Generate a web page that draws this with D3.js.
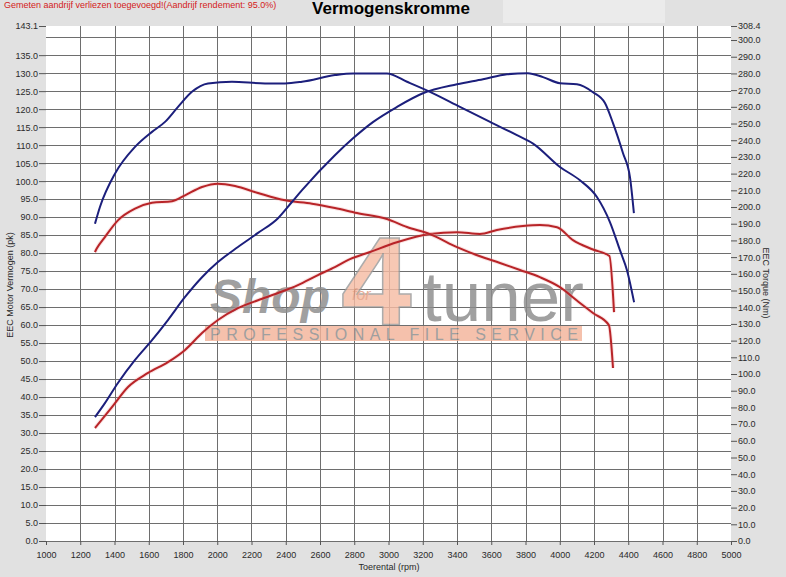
<!DOCTYPE html>
<html>
<head>
<meta charset="utf-8">
<script src="https://cdn.jsdelivr.net/npm/d3@7"></script>
<style>
  body { margin: 0; background: #e1e1e1; }
  svg { display: block; font-family: Arial, "Liberation Sans", sans-serif; }
</style>
</head>
<body>
<svg id="chart" width="786" height="577"></svg>
<script>
// tuned power (pk, left axis)
const tunedPowerRpm = [1286,1344,1420,1520,1619,1712,1812,1911,2004,2121,2238,2355,2436,2495,2687,2793,2909,3049,3201,3400,3552,3692,3814,3902,4001,4100,4194,4264,4311,4369,4410,4433];
const tunedPower    = [34.4,38.3,43.9,50.3,55.8,61.4,67.8,73.3,77.5,81.7,85.6,89.7,94.2,97.5,107.2,111.9,116.4,120.6,124.4,126.9,128.3,129.7,130.0,128.9,127.2,126.9,124.7,121.7,116.1,107.8,101.1,91.1];

// tuned torque (Nm, right axis)
const tunedTorqueRpm = [1286,1315,1403,1520,1619,1695,1771,1852,1946,2086,2279,2396,2495,2687,2793,2991,3108,3242,3417,3593,3750,3844,4001,4118,4217,4293,4352,4393,4434];
const tunedTorque    = [190,200,220,236,245,251,260,269,274,275,274,274,275,279,280,280,275,269,260,251,243,238,224,216,206,191,174,162,143];

// stock power (pk, left axis)
const stockPowerRpm = [1286,1385,1479,1596,1712,1812,1911,2004,2121,2238,2355,2471,2588,2687,2775,2892,3049,3242,3400,3534,3633,3785,3884,3984,4077,4194,4290,4317];
const stockPower    = [31.4,37.2,42.8,46.7,49.7,53.1,57.8,61.4,64.7,66.9,68.9,71.1,73.9,76.1,78.3,80.3,83.0,85.3,85.8,85.3,86.4,87.5,87.8,87.2,83.6,81.0,79.2,63.6];

// stock torque (Nm, right axis)
const stockTorqueRpm = [1286,1298,1344,1420,1520,1619,1736,1812,1911,2004,2104,2238,2396,2553,2687,2816,2991,3108,3242,3400,3534,3651,3768,3884,4001,4100,4194,4287,4311];
const stockTorque    = [173,175.4,182,192,199,202.5,203.5,207,212,214,212.6,208.4,204,202,199.4,196.4,192.8,188,183.8,176,170.5,166.5,162.3,158,152,144,136.5,129.3,103.6];

const rpmTicks = d3.range(1000, 5001, 200);
const pkTicks = d3.range(0, 136, 5).concat([143.1]);
const nmTicks = d3.range(0, 301, 10).concat([308.4]);

const svg = d3.select("#chart");
const plotLeft = 46, plotRight = 731, plotTop = 26, plotBottom = 541;

const x = d3.scaleLinear().domain([1000, 5000]).range([plotLeft, plotRight]);
const yL = d3.scaleLinear().domain([0, 143.1]).range([plotBottom, plotTop]);
const yR = d3.scaleLinear().domain([0, 308.4]).range([plotBottom, plotTop]);

svg.append("rect").attr("width", 786).attr("height", 577).attr("fill", "#e1e1e1");
svg.append("rect").attr("x", 503).attr("y", 0).attr("width", 162).attr("height", 23).attr("fill", "#ebebeb");

svg.append("text")
    .attr("x", 4).attr("y", 7.5)
    .attr("font-size", 9).attr("fill", "#d42020")
    .text("Gemeten aandrijf verliezen toegevoegd!(Aandrijf rendement: 95.0%)");

svg.append("text")
    .attr("x", 391).attr("y", 14)
    .attr("text-anchor", "middle")
    .attr("font-size", 17).attr("font-weight", "bold").attr("fill", "#000")
    .text("Vermogenskromme");

// plot area
svg.append("rect")
    .attr("x", plotLeft).attr("y", plotTop)
    .attr("width", plotRight - plotLeft).attr("height", plotBottom - plotTop)
    .attr("fill", "#fff");

// grid
const grid = svg.append("g").attr("stroke", "#6e6e6e").attr("stroke-width", 1);
grid.selectAll("line.h")
  .data(d3.range(0, 141, 5))
  .join("line")
    .attr("class", "h")
    .attr("x1", plotLeft).attr("x2", plotRight)
    .attr("y1", d => Math.round(yL(d)) + 0.5)
    .attr("y2", d => Math.round(yL(d)) + 0.5);
grid.selectAll("line.v")
  .data(rpmTicks.slice(1, -1))
  .join("line")
    .attr("class", "v")
    .attr("y1", plotTop).attr("y2", plotBottom)
    .attr("x1", d => Math.round(x(d)) + 0.5)
    .attr("x2", d => Math.round(x(d)) + 0.5);

// watermark
const wm = svg.append("g").attr("opacity", 0.82);
wm.append("rect")
    .attr("x", 205).attr("y", 326).attr("width", 377).attr("height", 15)
    .attr("fill", "#f4b49a");
wm.append("text")
    .attr("x", 341).attr("y", 325)
    .attr("font-size", 127).attr("font-weight", "bold")
    .attr("fill", "#f6bca4").attr("stroke", "#9a9a9a").attr("stroke-width", 1.5)
    .text("4");
wm.append("text")
    .attr("x", 210).attr("y", 313)
    .attr("font-size", 48).attr("font-weight", "bold").attr("font-style", "italic")
    .attr("fill", "#8c8c8c")
    .text("Shop");
wm.append("text")
    .attr("x", 352).attr("y", 300)
    .attr("font-size", 16).attr("font-style", "italic")
    .attr("fill", "#e59a7c")
    .text("for");
wm.append("text")
    .attr("x", 422).attr("y", 321)
    .attr("font-size", 71)
    .attr("fill", "#8c8c8c")
    .text("tuner");
wm.append("text")
    .attr("x", 210).attr("y", 340)
    .attr("font-size", 16)
    .attr("fill", "#8a8a8a")
    .attr("textLength", 368).attr("lengthAdjust", "spacing")
    .text("PROFESSIONAL FILE SERVICE");

// axes
const fmt = d3.format(".1f");
const axL = svg.append("g")
    .attr("transform", `translate(${plotLeft},0)`)
    .call(d3.axisLeft(yL).tickValues(pkTicks).tickFormat(fmt).tickSize(7).tickPadding(1));
const axR = svg.append("g")
    .attr("transform", `translate(${plotRight},0)`)
    .call(d3.axisRight(yR).tickValues(nmTicks).tickFormat(fmt).tickSize(6).tickPadding(1));
const axB = svg.append("g")
    .attr("transform", `translate(0,${plotBottom})`)
    .call(d3.axisBottom(x).tickValues(rpmTicks).tickFormat(d3.format("d")).tickSize(4).tickPadding(7));

[axL, axR, axB].forEach(g => {
  g.select(".domain").remove();
  g.selectAll("text").attr("font-size", 9).attr("fill", "#2a2a2a").attr("font-family", "Arial, 'Liberation Sans', sans-serif");
  g.selectAll("line").attr("stroke", "#555");
});

svg.append("text")
    .attr("transform", "translate(13,285) rotate(-90)")
    .attr("text-anchor", "middle")
    .attr("font-size", 9).attr("fill", "#2a2a2a")
    .text("EEC Motor Vermogen (pk)");
svg.append("text")
    .attr("transform", "translate(763,283) rotate(90)")
    .attr("text-anchor", "middle")
    .attr("font-size", 9).attr("fill", "#2a2a2a")
    .text("EEC Torque (Nm)");
svg.append("text")
    .attr("x", 389).attr("y", 570)
    .attr("text-anchor", "middle")
    .attr("font-size", 9).attr("fill", "#2a2a2a")
    .text("Toerental (rpm)");

// curves
function series(rpm, vals, yScale, color, halo) {
  const pts = rpm.map((r, i) => [r, vals[i]]);
  const line = d3.line()
      .x(d => x(d[0]))
      .y(d => yScale(d[1]))
      .curve(d3.curveMonotoneX);
  if (halo) {
    svg.append("path")
        .attr("d", line(pts))
        .attr("fill", "none")
        .attr("stroke", halo).attr("stroke-width", 4).attr("opacity", 0.3);
  }
  svg.append("path")
      .attr("d", line(pts))
      .attr("fill", "none")
      .attr("stroke", color).attr("stroke-width", 2)
      .attr("stroke-linejoin", "round");
}

series(stockPowerRpm, stockPower, yL, "#b82428", "#f0a0a0");
series(stockTorqueRpm, stockTorque, yR, "#b82428", "#f0a0a0");
series(tunedPowerRpm, tunedPower, yL, "#1c1f7c", null);
series(tunedTorqueRpm, tunedTorque, yR, "#1c1f7c", null);
</script>
</body>
</html>
